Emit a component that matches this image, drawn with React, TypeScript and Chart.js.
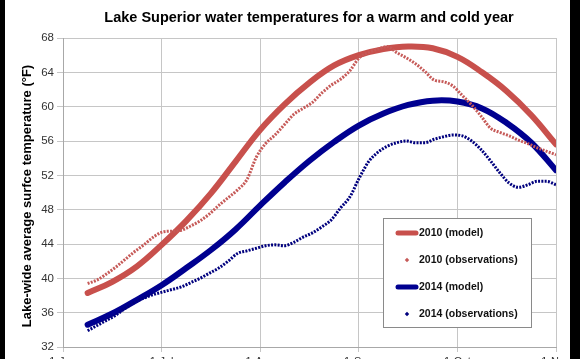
import React, { useEffect, useRef } from "react";
import { Chart, registerables } from "chart.js";

Chart.register(...registerables);

const TITLE = "Lake Superior water temperatures for a warm and cold year";
const Y_TITLE = "Lake-wide average surfce temperature (°F)";
const xTickLabels = ["1-Jun", "1-Jul", "1-Aug", "1-Sep", "1-Oct", "1-Nov"];
const Y_MIN = 32;
const Y_MAX = 68;
const Y_STEP = 4;

// model curves, sampled every quarter month
const modelMonths = [0.25, 0.5, 0.75, 1.0, 1.25, 1.5, 1.75, 2.0, 2.25, 2.5, 2.75, 3.0, 3.25, 3.5, 3.75, 4.0, 4.25, 4.5, 4.75, 5.0];
const model2010 = [38.3, 39.6, 41.4, 43.9, 46.7, 49.9, 53.6, 57.3, 60.3, 62.8, 64.8, 66.0, 66.7, 67.0, 66.8, 65.8, 64.0, 61.8, 59.0, 55.6];
const model2014 = [34.6, 35.9, 37.5, 39.2, 41.2, 43.3, 45.7, 48.5, 51.2, 53.7, 55.9, 57.8, 59.2, 60.2, 60.7, 60.6, 59.8, 58.1, 55.8, 52.6];

// observations
const OBS_START = 0.25;
const OBS_STEP = 0.095;
const obs2010 = [39.4, 39.8, 40.5, 41.3, 42.2, 43.1, 43.9, 44.8, 45.4, 45.5, 45.6, 46.1, 46.7, 47.5, 48.5, 49.4, 50.3, 51.5, 54.1, 55.7, 56.7, 57.9, 59.1, 59.8, 60.5, 61.6, 62.5, 63.2, 64.2, 65.7, 66.3, 66.7, 67.0, 66.3, 65.7, 65.0, 64.1, 63.1, 62.9, 62.4, 61.3, 60.2, 58.9, 57.5, 57.0, 56.6, 56.1, 55.7, 55.2, 54.8, 54.4];
const obs2014 = [33.9, 34.5, 35.1, 35.7, 36.5, 37.2, 37.7, 38.1, 38.4, 38.7, 39.0, 39.5, 40.0, 40.6, 41.2, 42.0, 42.9, 43.2, 43.5, 43.8, 43.9, 43.8, 44.2, 44.8, 45.3, 46.0, 46.8, 48.2, 49.5, 51.7, 53.6, 54.7, 55.4, 55.8, 56.0, 55.8, 55.8, 56.2, 56.5, 56.7, 56.6, 56.0, 55.0, 53.7, 52.3, 51.1, 50.6, 50.9, 51.3, 51.3, 50.9];

const seriesNames = ["2010 (model)", "2010 (observations)", "2014 (model)", "2014 (observations)"];
const RED = "#c8504c";
const RED_OBS = "#c65a58";
const BLUE = "#000090";
const BLUE_OBS = "#00007e";
const FONT = "'Liberation Sans', Arial, sans-serif";

const W = 580;
const H = 372;

const overlayPlugin = {
  id: "overlay",
  afterDraw(chart: any) {
    const ctx = chart.ctx as CanvasRenderingContext2D;
    ctx.save();
    // title
    ctx.fillStyle = "#000";
    ctx.font = `bold 14.5px ${FONT}`;
    ctx.textAlign = "center";
    ctx.textBaseline = "middle";
    ctx.fillText(TITLE, 309, 18);
    // y title
    ctx.save();
    ctx.translate(27, 196);
    ctx.rotate(-Math.PI / 2);
    ctx.font = `bold 13px ${FONT}`;
    ctx.fillText(Y_TITLE, 0, 0);
    ctx.restore();

    // legend box
    const lx = 383, ly = 218, lw = 148, lh = 109;
    ctx.fillStyle = "#fff";
    ctx.fillRect(lx, ly, lw, lh);
    ctx.strokeStyle = "#8a8a8a";
    ctx.lineWidth = 1;
    ctx.strokeRect(lx + 0.5, ly + 0.5, lw, lh);
    const rowsY = [233, 260, 287, 314];
    const kinds = ["line", "dot", "line", "dot"];
    const cols = [RED, RED_OBS, BLUE, BLUE_OBS];
    ctx.font = `bold 10.5px ${FONT}`;
    ctx.textAlign = "left";
    ctx.textBaseline = "middle";
    seriesNames.forEach((name, i) => {
      const y = rowsY[i];
      if (kinds[i] === "line") {
        ctx.strokeStyle = cols[i];
        ctx.lineWidth = 5;
        ctx.lineCap = "round";
        ctx.beginPath();
        ctx.moveTo(398, y);
        ctx.lineTo(416, y);
        ctx.stroke();
      } else {
        ctx.fillStyle = cols[i];
        ctx.beginPath();
        const cx = 407, s = 2.2;
        ctx.moveTo(cx, y - s);
        ctx.lineTo(cx + s, y);
        ctx.lineTo(cx, y + s);
        ctx.lineTo(cx - s, y);
        ctx.closePath();
        ctx.fill();
      }
      ctx.fillStyle = "#111";
      ctx.fillText(name, 419, y + 0.5);
    });
    ctx.restore();
  },
};

export default function App() {
  const ref = useRef<HTMLCanvasElement | null>(null);

  useEffect(() => {
    if (!ref.current) return;
    const toPts = (xs: number[], ys: number[]) => ys.map((y, i) => ({ x: xs[i], y }));
    const obsX = obs2010.map((_, i) => OBS_START + OBS_STEP * i);

    const chart = new Chart(ref.current, {
      type: "line",
      data: {
        datasets: [
          {
            label: seriesNames[1],
            data: toPts(obsX, obs2010),
            borderColor: RED_OBS,
            borderWidth: 3,
            borderDash: [2, 1.3],
            pointRadius: 0,
            cubicInterpolationMode: "monotone",
            fill: false,
          },
          {
            label: seriesNames[3],
            data: toPts(obsX, obs2014),
            borderColor: BLUE_OBS,
            borderWidth: 3,
            borderDash: [2, 1.3],
            pointRadius: 0,
            cubicInterpolationMode: "monotone",
            fill: false,
          },
          {
            label: seriesNames[0],
            data: toPts(modelMonths, model2010),
            borderColor: RED,
            borderWidth: 6,
            borderCapStyle: "round",
            pointRadius: 0,
            tension: 0.4,
            fill: false,
          },
          {
            label: seriesNames[2],
            data: toPts(modelMonths, model2014),
            borderColor: BLUE,
            borderWidth: 6,
            borderCapStyle: "round",
            pointRadius: 0,
            tension: 0.4,
            fill: false,
          },
        ],
      },
      options: {
        responsive: false,
        animation: false,
        devicePixelRatio: 1,
        layout: { padding: { top: 38, right: 24, bottom: 0, left: 0 } },
        plugins: {
          legend: { display: false },
          title: { display: false },
          tooltip: { enabled: false },
        },
        scales: {
          x: {
            type: "linear",
            min: 0,
            max: 5,
            afterFit: (s: any) => {
              s.height = H - 347;
            },
            ticks: {
              stepSize: 1,
              autoSkip: false,
              maxRotation: 0,
              padding: 3,
              color: "#333",
              font: { family: FONT, size: 11 },
              callback: (v: any) => xTickLabels[Math.round(Number(v))] ?? "",
            },
            grid: { color: "#c6c6c6", tickLength: 5, lineWidth: 1 },
            border: { color: "#a8a8a8" },
          },
          y: {
            min: Y_MIN,
            max: Y_MAX,
            afterFit: (s: any) => {
              s.width = 63;
            },
            ticks: {
              stepSize: Y_STEP,
              padding: 3,
              color: "#333",
              font: { family: FONT, size: 11.5 },
            },
            grid: { color: "#c6c6c6", tickLength: 6, lineWidth: 1 },
            border: { color: "#a8a8a8" },
          },
        },
      },
      plugins: [overlayPlugin],
    } as any);
    return () => chart.destroy();
  }, []);

  return (
    <div style={{ position: "fixed", left: 0, top: 0, width: W, height: 359, background: "#000", overflow: "hidden" }}>
      <div style={{ position: "absolute", left: 5, top: 0, width: 565, height: 359, background: "#fff" }} />
      <canvas ref={ref} width={W} height={H} style={{ position: "absolute", left: 0, top: 0, width: W, height: H }} />
    </div>
  );
}
